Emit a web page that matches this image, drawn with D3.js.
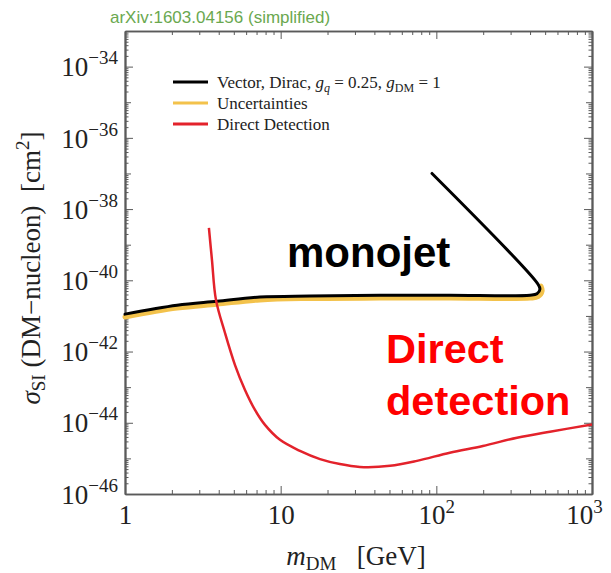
<!DOCTYPE html>
<html>
<head>
<meta charset="utf-8">
<script src="https://cdn.jsdelivr.net/npm/d3@7"></script>
<style>
  body { margin: 0; background: #fff; }
  svg { display: block; }
</style>
</head>
<body>
<svg id="chart" width="611" height="573"></svg>
<script>
// Monojet exclusion contour (vector mediator, Dirac DM, g_q = 0.25, g_DM = 1)
const monojetMass = [1, 2.16, 3.9, 7.36, 15.4, 43.5, 122, 400, 443, 463, 450, 93.8];
const monojetLogSigma = [-40.95, -40.70, -40.59, -40.47, -40.44, -40.42, -40.42, -40.42, -40.38, -40.25, -40.11, -37.0];

// Uncertainty band edge drawn beneath the monojet contour
const uncertMass = [1, 2.16, 3.9, 7.36, 15.4, 43.5, 122, 400, 450, 478, 470];
const uncertLogSigma = [-41.03, -40.78, -40.67, -40.55, -40.51, -40.50, -40.50, -40.50, -40.46, -40.30, -40.16];

// Direct detection limit
const directMass = [3.46, 3.62, 3.84, 4.39, 5.09, 5.90, 6.84, 7.93, 9.90, 13.3, 17.9, 24.0, 32.3, 50.4, 75.1, 122, 199, 330, 537, 1000];
const directLogSigma = [-38.53, -39.43, -40.55, -41.48, -42.38, -43.08, -43.64, -44.06, -44.48, -44.79, -45.02, -45.16, -45.24, -45.21, -45.07, -44.84, -44.65, -44.42, -44.25, -44.05];

// Axis ticks and labels
const xTickValues = [1, 10, 100, 1000];
const xTickBase = ["1", "10", "10", "10"];
const xTickExp = ["", "", "2", "3"];
const yTickLogs = [-46, -44, -42, -40, -38, -36, -34];
const yTickExp = ["\u221246", "\u221244", "\u221242", "\u221240", "\u221238", "\u221236", "\u221234"];

const svg = d3.select("#chart");
const plot = { left: 125, right: 592, top: 31, bottom: 494 };
const serif = "'Liberation Serif', 'Times New Roman', serif";
const sans = "'Liberation Sans', Arial, sans-serif";
const axisColor = "#5a5a5a";

const x = d3.scaleLog().domain([1, 1000]).range([plot.left, plot.right]);
const y = d3.scaleLog().domain([1e-46, 1e-33]).range([plot.bottom, plot.top]);

const pts = (ms, ls) => ms.map((m, i) => ({ m, s: Math.pow(10, ls[i]) }));
const line = d3.line().x(d => x(d.m)).y(d => y(d.s)).curve(d3.curveCatmullRom.alpha(0.5));

// Title
svg.append("text")
  .attr("x", 110).attr("y", 23)
  .attr("font-family", sans).attr("font-size", 17)
  .attr("fill", "#6aa84f")
  .text("arXiv:1603.04156 (simplified)");

// Minor and major ticks on all four sides (pointing inward)
const isDecade = v => Math.abs(Math.log10(v) - Math.round(Math.log10(v))) <= 1e-9;
const xMinor = x.ticks(30).filter(v => !xTickValues.includes(v));
const yAll = y.ticks(40);
const yMinor = yAll.filter(v => !isDecade(v));
const yDecade = yAll.filter(v => isDecade(v) && !yTickLogs.includes(Math.round(Math.log10(v))));
const yMajor = yTickLogs.map(e => Math.pow(10, e));

function styleAxis(g) {
  g.selectAll("path.domain").attr("stroke", axisColor).attr("stroke-width", 1.6);
  g.selectAll(".tick line").attr("stroke", axisColor).attr("stroke-width", 1);
}

function tickLayer(axisFn, scale, values, size, transform) {
  const g = svg.append("g").attr("transform", transform)
    .call(axisFn(scale).tickValues(values).tickSizeInner(-size).tickSizeOuter(0).tickFormat(""));
  styleAxis(g);
  return g;
}

const bottomT = `translate(0,${plot.bottom})`, topT = `translate(0,${plot.top})`;
const leftT = `translate(${plot.left},0)`, rightT = `translate(${plot.right},0)`;

tickLayer(d3.axisBottom, x, xMinor, 4, bottomT);
tickLayer(d3.axisTop, x, xMinor, 4, topT);
tickLayer(d3.axisTop, x, xTickValues, 8, topT);
tickLayer(d3.axisLeft, y, yMinor, 3.5, leftT);
tickLayer(d3.axisLeft, y, yDecade, 6, leftT);
tickLayer(d3.axisRight, y, yMinor, 3.5, rightT);
tickLayer(d3.axisRight, y, yDecade, 6, rightT);
tickLayer(d3.axisRight, y, yMajor, 8, rightT);

// Labelled bottom axis
const gx = svg.append("g").attr("transform", bottomT)
  .call(d3.axisBottom(x).tickValues(xTickValues).tickSizeInner(-8).tickSizeOuter(0).tickPadding(11));
styleAxis(gx);
gx.selectAll(".tick text").each(function(d, i) {
  const t = d3.select(this).text(null)
    .attr("font-family", serif).attr("font-size", 27).attr("fill", "#222")
    .attr("dy", "0.72em");
  t.append("tspan").text(xTickBase[i]);
  if (xTickExp[i]) t.append("tspan").attr("font-size", 19).attr("dy", -11).text(xTickExp[i]);
  if (i === xTickValues.length - 1) t.attr("dx", -8);
});

// Labelled left axis
const gy = svg.append("g").attr("transform", leftT)
  .call(d3.axisLeft(y).tickValues(yMajor).tickSizeInner(-8).tickSizeOuter(0).tickPadding(7));
styleAxis(gy);
gy.selectAll(".tick text").each(function(d, i) {
  const t = d3.select(this).text(null)
    .attr("font-family", serif).attr("font-size", 27).attr("fill", "#222")
    .attr("dy", "0.34em");
  t.append("tspan").text("10");
  t.append("tspan").attr("font-size", 19).attr("dy", -12).text(yTickExp[i]);
});

// Curves
svg.append("path")
  .datum(pts(uncertMass, uncertLogSigma))
  .attr("d", line).attr("fill", "none")
  .attr("stroke", "#f3c24b").attr("stroke-width", 5)
  .attr("stroke-linejoin", "round").attr("stroke-linecap", "round");

svg.append("path")
  .datum(pts(monojetMass, monojetLogSigma))
  .attr("d", line).attr("fill", "none")
  .attr("stroke", "#000").attr("stroke-width", 3)
  .attr("stroke-linejoin", "round").attr("stroke-linecap", "round");

svg.append("path")
  .datum(pts(directMass, directLogSigma))
  .attr("d", line).attr("fill", "none")
  .attr("stroke", "#e3222b").attr("stroke-width", 2.5)
  .attr("stroke-linejoin", "round");

// Legend
const legendRows = [
  { color: "#000", y: 82 },
  { color: "#f3c24b", y: 103 },
  { color: "#e3222b", y: 124 }
];
legendRows.forEach(r => {
  svg.append("line")
    .attr("x1", 173).attr("x2", 208).attr("y1", r.y).attr("y2", r.y)
    .attr("stroke", r.color).attr("stroke-width", 3);
});
const lt = (yy) => svg.append("text").attr("x", 217).attr("y", yy + 6)
  .attr("font-family", serif).attr("font-size", 17).attr("fill", "#222");
const l1 = lt(82);
l1.append("tspan").text("Vector, Dirac, ");
l1.append("tspan").attr("font-style", "italic").text("g");
l1.append("tspan").attr("font-style", "italic").attr("font-size", 12).attr("dy", 4).text("q");
l1.append("tspan").attr("dy", -4).text(" = 0.25, ");
l1.append("tspan").attr("font-style", "italic").text("g");
l1.append("tspan").attr("font-size", 12).attr("dy", 4).text("DM");
l1.append("tspan").attr("dy", -4).text(" = 1");
lt(103).text("Uncertainties");
lt(124).text("Direct Detection");

// Annotations
svg.append("text").attr("x", 287).attr("y", 267)
  .attr("font-family", sans).attr("font-weight", "bold").attr("font-size", 42)
  .attr("fill", "#000").text("monojet");
svg.append("text").attr("x", 386).attr("y", 363)
  .attr("font-family", sans).attr("font-weight", "bold").attr("font-size", 41.5)
  .attr("fill", "#ff0000").text("Direct");
svg.append("text").attr("x", 386).attr("y", 415)
  .attr("font-family", sans).attr("font-weight", "bold").attr("font-size", 41.5)
  .attr("fill", "#ff0000").text("detection");

// Axis titles
const xl = svg.append("text").attr("x", 356).attr("y", 565)
  .attr("text-anchor", "middle")
  .attr("font-family", serif).attr("font-size", 27).attr("fill", "#222");
xl.append("tspan").attr("font-style", "italic").text("m");
xl.append("tspan").attr("font-size", 19).attr("dy", 5).text("DM");
xl.append("tspan").attr("dy", -5).text("\u00a0\u00a0\u00a0[GeV]");

const yl = svg.append("text")
  .attr("transform", "translate(40,268) rotate(-90)")
  .attr("text-anchor", "middle")
  .attr("font-family", serif).attr("font-size", 27).attr("fill", "#222");
yl.append("tspan").attr("font-style", "italic").text("\u03c3");
yl.append("tspan").attr("font-size", 19).attr("dy", 5).text("SI");
yl.append("tspan").attr("dy", -5).text(" (DM\u2212nucleon)\u00a0\u00a0[cm");
yl.append("tspan").attr("font-size", 19).attr("dy", -11).text("2");
yl.append("tspan").attr("dy", 11).text("]");
</script>
</body>
</html>
